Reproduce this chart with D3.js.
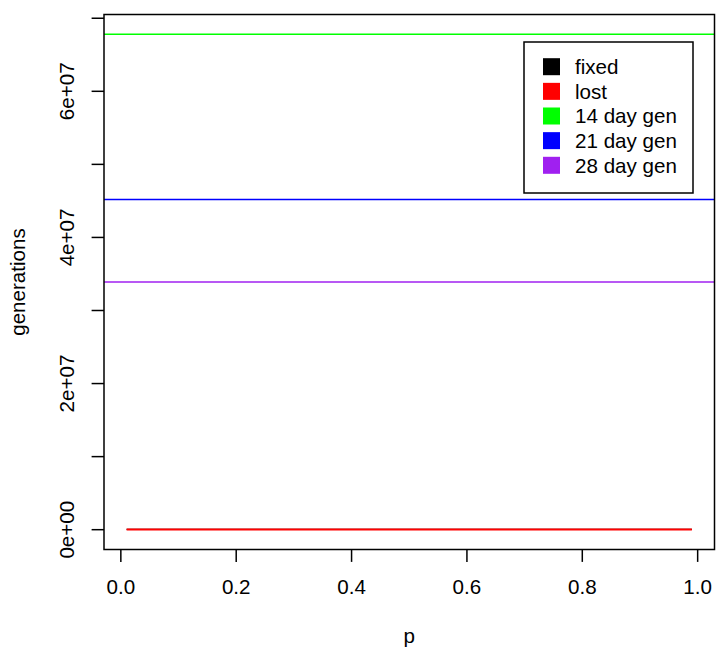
<!DOCTYPE html>
<html>
<head>
<meta charset="utf-8">
<script src="https://cdn.jsdelivr.net/npm/d3@7"></script>
<style>
  html, body { margin: 0; padding: 0; background: #fff; }
  text { font-family: "Liberation Sans", Arial, Helvetica, sans-serif; }
</style>
</head>
<body>
<svg id="chart" width="717" height="651"></svg>
<script>
// ---- data ----
const pValues = [0.01, 0.25, 0.5, 0.75, 0.99];
const fixedGens = [40000, 40000, 40000, 40000, 40000];
const lostGens = [20000, 20000, 20000, 20000, 20000];
const genLabels = ["14 day gen", "21 day gen", "28 day gen"];
const genValues = [6.78e7, 4.52e7, 3.39e7];
const legendLabels = ["fixed", "lost", "14 day gen", "21 day gen", "28 day gen"];
const legendColors = ["#000000", "#FF0000", "#00FF00", "#0000FF", "#A020F0"];
const xTicks = [0, 0.2, 0.4, 0.6, 0.8, 1.0];
const xTickLabels = ["0.0", "0.2", "0.4", "0.6", "0.8", "1.0"];
const yTicks = [0, 1e7, 2e7, 3e7, 4e7, 5e7, 6e7, 7e7];
const yTickLabels = ["0e+00", "", "2e+07", "", "4e+07", "", "6e+07", ""];

// ---- layout ----
const svg = d3.select("#chart");
const L = 104, R = 714.5, T = 14.5, B = 549.5;
const fs = 20.6;
const lineH = 24.7;

const xMin = d3.min(pValues), xMax = d3.max(pValues);
const xPad = 0.04 * (xMax - xMin);
const x = d3.scaleLinear().domain([xMin - xPad, xMax + xPad]).range([L, R]);

const yLo = 0, yHi = d3.max(genValues);
const yPad = 0.04 * (yHi - yLo);
const y = d3.scaleLinear().domain([yLo - yPad, yHi + yPad]).range([B, T]);

// clip
svg.append("defs").append("clipPath").attr("id", "plotclip")
  .append("rect").attr("x", L).attr("y", T).attr("width", R - L).attr("height", B - T);

const plot = svg.append("g").attr("clip-path", "url(#plotclip)");

const lw = 1.4;
// horizontal generation lines (abline)
plot.selectAll("line.gen").data(genValues).enter().append("line")
  .attr("class", "gen")
  .attr("x1", L).attr("x2", R)
  .attr("y1", d => y(d)).attr("y2", d => y(d))
  .attr("stroke", (d, i) => legendColors[i + 2])
  .attr("stroke-width", lw);

const line = d3.line().x(d => x(d[0])).y(d => y(d[1]));
plot.append("path").datum(pValues.map((p, i) => [p, fixedGens[i]]))
  .attr("d", line).attr("fill", "none").attr("stroke", legendColors[0]).attr("stroke-width", lw);
plot.append("path").datum(pValues.map((p, i) => [p, lostGens[i]]))
  .attr("d", line).attr("fill", "none").attr("stroke", legendColors[1]).attr("stroke-width", lw + 0.6);

// box
svg.append("rect").attr("x", L).attr("y", T).attr("width", R - L).attr("height", B - T)
  .attr("fill", "none").attr("stroke", "#000").attr("stroke-width", 1.5);

// x axis
const tick = 12.4;
const xa = svg.append("g");
xa.selectAll("line").data(xTicks).enter().append("line")
  .attr("x1", d => x(d)).attr("x2", d => x(d))
  .attr("y1", B).attr("y2", B + tick)
  .attr("stroke", "#000").attr("stroke-width", 1.5);
xa.selectAll("text").data(xTicks).enter().append("text")
  .attr("x", d => x(d)).attr("y", B + 1.8 * lineH)
  .attr("text-anchor", "middle").attr("font-size", fs)
  .text((d, i) => xTickLabels[i]);

// y axis
const ya = svg.append("g");
ya.selectAll("line").data(yTicks).enter().append("line")
  .attr("x1", L).attr("x2", L - tick)
  .attr("y1", d => y(d)).attr("y2", d => y(d))
  .attr("stroke", "#000").attr("stroke-width", 1.5);
ya.selectAll("text").data(yTicks).enter().append("text")
  .attr("transform", d => `translate(${L - 1.2 * lineH},${y(d)}) rotate(-90)`)
  .attr("text-anchor", "middle").attr("font-size", fs)
  .text((d, i) => yTickLabels[i]);

// axis titles
svg.append("text").attr("x", (L + R) / 2).attr("y", B + 3.8 * lineH)
  .attr("text-anchor", "middle").attr("font-size", fs).text("p");
svg.append("text").attr("transform", `translate(${L - 3.2 * lineH},${(T + B) / 2}) rotate(-90)`)
  .attr("text-anchor", "middle").attr("font-size", fs).text("generations");

// legend
const lg = svg.append("g");
lg.append("rect").attr("x", 524).attr("y", 42).attr("width", 169).attr("height", 151)
  .attr("fill", "#fff").attr("stroke", "#000").attr("stroke-width", 1.5);
const rowY = i => 66.7 + i * 24.65;
lg.selectAll("rect.sw").data(legendLabels).enter().append("rect")
  .attr("class", "sw")
  .attr("x", 543).attr("y", (d, i) => rowY(i) - 8.5)
  .attr("width", 17).attr("height", 17)
  .attr("fill", (d, i) => legendColors[i]);
lg.selectAll("text").data(legendLabels).enter().append("text")
  .attr("x", 575).attr("y", (d, i) => rowY(i))
  .attr("dy", "0.35em").attr("font-size", fs)
  .text(d => d);
</script>
</body>
</html>
